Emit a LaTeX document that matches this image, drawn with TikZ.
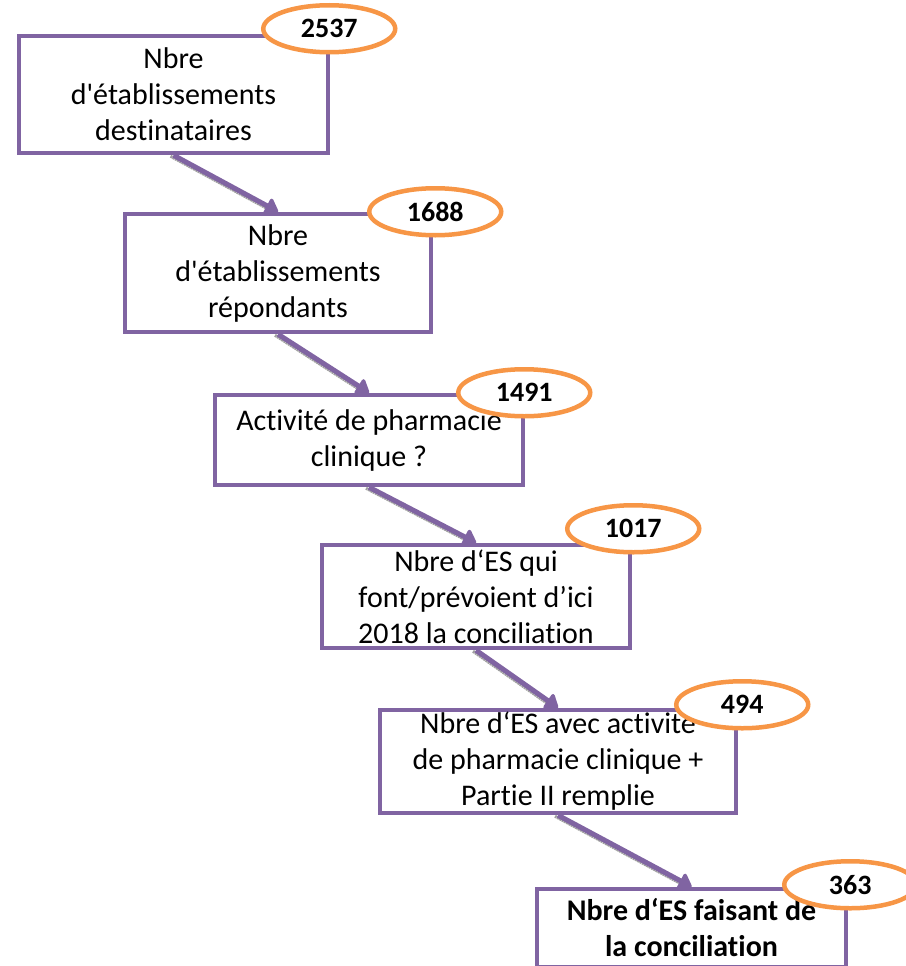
\documentclass[tikz,border=0pt]{standalone}
\usepackage{fontspec}
\setmainfont{Carlito}[Ligatures={TeX,NoCommon}]
\usetikzlibrary{positioning,shapes.geometric,arrows.meta}
\definecolor{flowpurple}{HTML}{8064A2}
\definecolor{countorange}{HTML}{F79646}

\begin{document}
\begin{tikzpicture}[
    x=1pt, y=-1pt,
    box/.style={draw=flowpurple,
                line width=4.5pt,
                fill=white,
                inner sep=2pt,
                align=center,
                font=\fontsize{30}{36}\selectfont},
    count/.style={ellipse, draw=countorange, line width=4.5pt, fill=white,
                  inner sep=0pt, minimum width=132pt, minimum height=47pt,
                  font=\fontsize{28}{34}\selectfont\bfseries},
    flow/.style={draw=flowpurple, line width=5pt,
                 -{Triangle[length=14pt,width=20pt,round]}},
    shade/.style={draw=gray!75, line width=3pt, dash pattern=on 2pt off 0.6pt}
]
\useasboundingbox (0,0) rectangle (905,966);

\node[box, minimum width=309pt, minimum height=117pt] (b1) at (173.5,94.5)
    {Nbre\\d\textquotesingle établissements\\destinataires};
\node[box, minimum width=306pt, minimum height=118pt] (b2) at (278,273)
    {Nbre\\d\textquotesingle établissements\\répondants};
\node[box, minimum width=308pt, minimum height=90pt] (b3) at (369,440)
    {Activité de pharmacie\\clinique ?};
\node[box, minimum width=308pt, minimum height=103pt] (b4) at (476,596.5)
    {Nbre d‘ES qui\\font/prévoient d’ici\\2018 la conciliation};
\node[box, minimum width=356pt, minimum height=103pt] (b5) at (558,761.5)
    {Nbre d‘ES avec activité\\de pharmacie clinique +\\Partie II remplie};
\node[box, minimum width=309pt, minimum height=78pt, font=\fontsize{30}{36}\selectfont\bfseries] (b6) at (691.5,928)
    {Nbre d‘ES faisant de\\la conciliation};

% fleches avec ombre
\foreach \i/\j in {1/2,2/3,3/4,4/5,5/6} {
    \draw[shade, shorten >=4pt] ([shift={(-3,1)}]b\i.south) -- ([shift={(-3,1)}]b\j.north);
    \draw[flow] (b\i.south) -- (b\j.north);
}

% effectifs
\node[count, xshift=-1pt, yshift=5pt] (n1) at (b1.north east) {2537};
\node[count, xshift=2pt] (n2) at (b2.north east) {1688};
\node[count, xshift=-1pt] (n3) at (b3.north east) {1491};
\node[count, xshift=1pt, yshift=14pt] (n4) at (b4.north east) {1017};
\node[count, xshift=4pt, yshift=3pt] (n5) at (b5.north east) {494};
\node[count, xshift=2pt, yshift=2pt] (n6) at (b6.north east) {363};
\end{tikzpicture}
\end{document}
